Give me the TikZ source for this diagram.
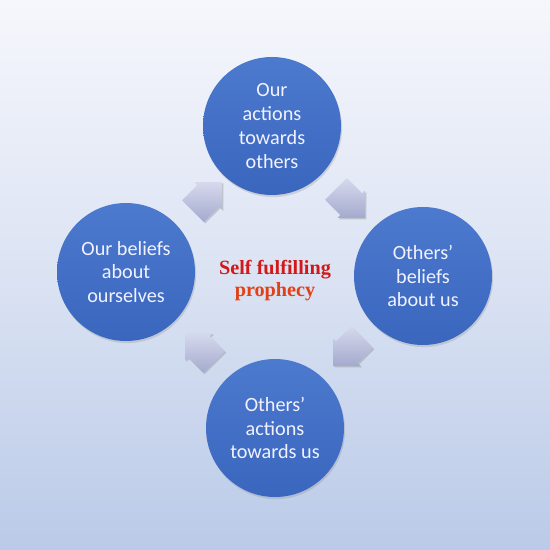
\documentclass[tikz,border=0pt]{standalone}
\usepackage{fontspec}
\usepackage{tikz}
\usetikzlibrary{shapes,arrows,arrows.meta,positioning,calc,shadows,backgrounds}
\newfontfamily\cali{Carlito}
\newfontfamily\tnr{Liberation Serif}
\definecolor{bgtop}{RGB}{246,247,252}
\definecolor{bgbot}{RGB}{186,202,232}
\definecolor{cbtop}{RGB}{76,122,206}
\definecolor{cbbot}{RGB}{58,102,190}
\definecolor{artop}{RGB}{214,217,237}
\definecolor{arbot}{RGB}{164,170,206}
\definecolor{prored}{RGB}{210,24,24}
\definecolor{proorg}{RGB}{226,64,22}

\begin{document}
\begin{tikzpicture}[
  circbox/.style={circle, minimum size=2.76cm, inner sep=0pt, top color=cbtop,
    bottom color=cbbot, draw=none, text=white!95!blue, align=center,
    font=\cali\fontsize{11.5}{13.5}\selectfont,
    drop shadow={opacity=0.25, shadow xshift=0.6pt, shadow yshift=-1.2pt}},
  blockarr/.style={single arrow, minimum height=0.82cm, inner xsep=0pt, inner ysep=0.3cm,
    single arrow head extend=0.08cm, single arrow tip angle=90,
    top color=artop, bottom color=arbot, draw=none,
    drop shadow={opacity=0.35, shadow xshift=0.8pt, shadow yshift=-0.8pt}}]

  % Background
  \useasboundingbox (0,0) rectangle (11,11);
  \shade[top color=bgtop, bottom color=bgbot, middle color=bgtop!55!bgbot] (0,0) rectangle (11,11);

  % Centre
  \node[font=\tnr\bfseries\fontsize{11.5}{13}\selectfont, align=center] (prophecy) at (5.5,5.39)
    {\textcolor{prored}{Self fulfilling}\\ \textcolor{proorg}{prophecy}};

  % Circles
  \node[circbox] (ouract)  at (5.44,8.48) {Our\\actions\\towards\\others};
  \node[circbox] (othbel)  at (8.46,5.48) {Others’\\beliefs\\about us};
  \node[circbox] (othact)  at (5.50,2.44) {Others’\\actions\\towards us};
  \node[circbox] (ourbel)  at (2.52,5.56) {Our beliefs\\about\\ourselves};

  % Arrows
  \node[blockarr, rotate=45]   (arrone)   at (4.04,6.96) {};
  \node[blockarr, rotate=-45]  (arrtwo)   at (6.90,7.04) {};
  \node[blockarr, rotate=-135] (arrthree) at (7.06,4.08) {};
  \node[blockarr, rotate=135]  (arrfour)  at (4.10,3.94) {};
\end{tikzpicture}
\end{document}
